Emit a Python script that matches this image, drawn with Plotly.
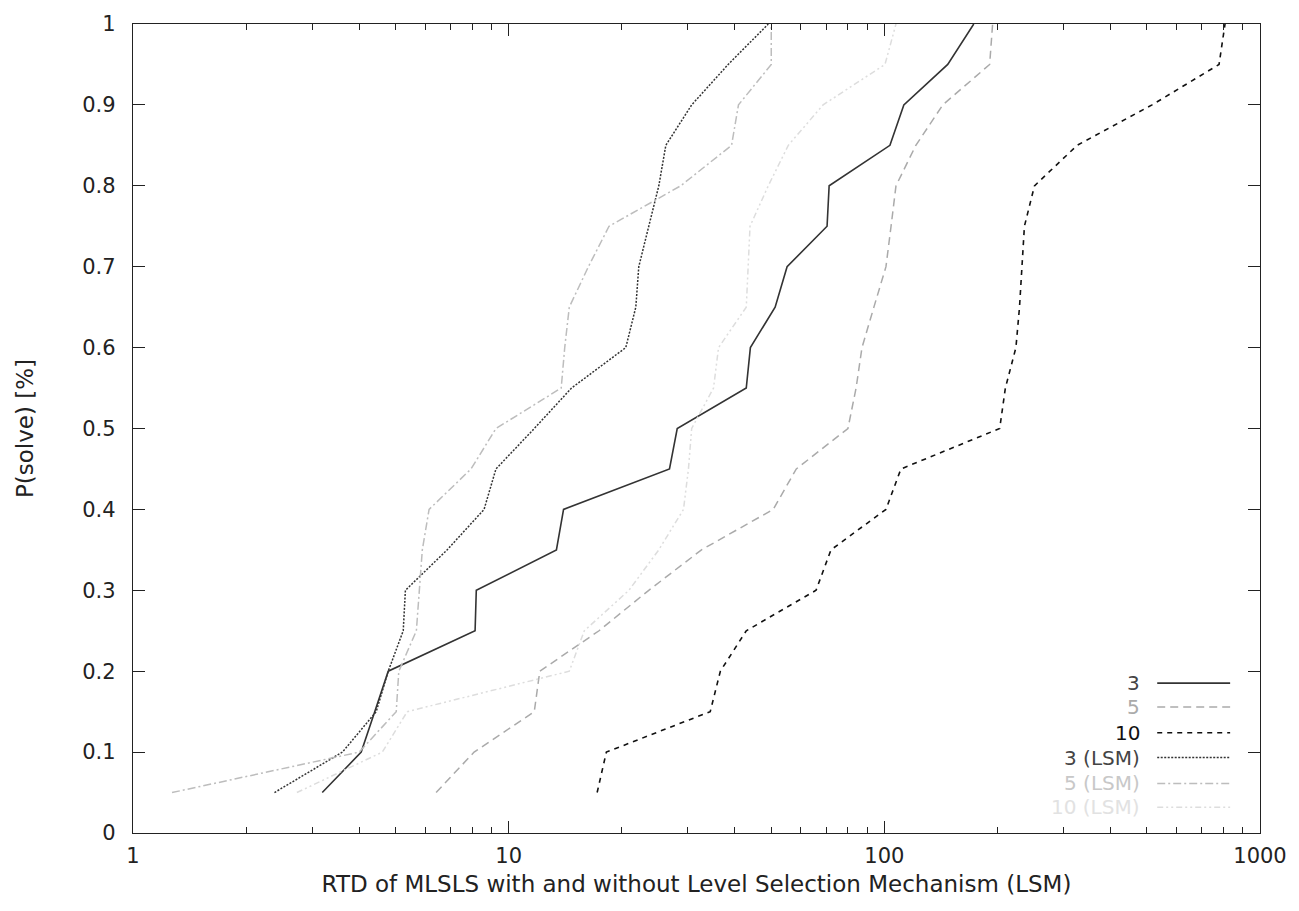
import plotly.graph_objects as go

# P(solve) levels (20 runs)
p_levels = [0.05, 0.10, 0.15, 0.20, 0.25, 0.30, 0.35, 0.40, 0.45, 0.50,
            0.55, 0.60, 0.65, 0.70, 0.75, 0.80, 0.85, 0.90, 0.95, 1.00]

rtd_3 = [3.19, 4.05, 4.4, 4.78, 8.14, 8.2, 13.4, 14.0, 26.8, 28.1,
         42.9, 44.0, 51.2, 55.1, 70.4, 71.3, 103.5, 112.7, 147.5, 173]
rtd_5 = [6.41, 8.09, 11.7, 12.1, 17.4, 23.6, 32.6, 50.6, 58.3, 80.0,
         84.1, 87.2, 93.8, 101, 104.2, 107.4, 121.3, 143.1, 190.7, 194.2]
rtd_10 = [17.2, 18.2, 34.4, 36.6, 42.9, 65.8, 72.1, 101, 110.7, 202.8,
          210, 224, 229, 233, 236, 251, 326, 516, 778, 807]
rtd_3_lsm = [2.38, 3.61, 4.44, 4.78, 5.24, 5.31, 6.86, 8.60, 9.25, 11.7,
             14.7, 20.5, 21.8, 22.2, 23.6, 25.1, 26.2, 30.7, 38.4, 49.1]
rtd_5_lsm = [1.27, 4.0, 5.02, 5.1, 5.68, 5.78, 5.89, 6.14, 7.94, 9.25,
             13.8, 14.1, 14.5, 16.3, 18.5, 28.7, 39.2, 40.9, 50.0, 50.0]
rtd_10_lsm = [2.73, 4.61, 5.37, 14.5, 15.9, 20.9, 25.1, 29.2, 30.1, 30.7,
              35.1, 36.2, 42.9, 43.3, 43.9, 49.1, 55.5, 68.7, 100.4, 107.4]

series_names = ["3", "5", "10", "3 (LSM)", "5 (LSM)", "10 (LSM)"]
series_data = [rtd_3, rtd_5, rtd_10, rtd_3_lsm, rtd_5_lsm, rtd_10_lsm]
line_colors = ["#333333", "#aaaaaa", "#111111", "#333333", "#bdbdbd", "#dddddd"]
text_colors = ["#444444", "#aaaaaa", "#111111", "#444444", "#c8c8c8", "#e2e2e2"]
dashes = ["solid", "8px,5px", "5px,5px", "2px,1.5px", "8px,3px,2px,3px", "6px,3px,2px,3px,2px,3px"]
widths = [1.6, 1.5, 1.6, 1.5, 1.5, 1.5]

x_major = [1, 10, 100, 1000]
x_minor = [m * d for d in (1, 10, 100) for m in range(2, 10)]
y_ticks = [0, 0.1, 0.2, 0.3, 0.4, 0.5, 0.6, 0.7, 0.8, 0.9, 1]
y_labels = ["0", "0.1", "0.2", "0.3", "0.4", "0.5", "0.6", "0.7", "0.8", "0.9", "1"]

fig = go.Figure()
for name, xs, col, dash, w in zip(series_names, series_data, line_colors, dashes, widths):
    fig.add_trace(go.Scatter(x=xs, y=p_levels, mode="lines", name=name,
                             line=dict(color=col, dash=dash, width=w),
                             showlegend=False))

font_family = "DejaVu Sans, Liberation Sans, Arial, sans-serif"

# gnuplot-style key (bottom right): right-aligned label then line sample
key_y = [0.1853, 0.1558, 0.1239, 0.0933, 0.0613, 0.0319]
for name, col, tcol, dash, w, ky in zip(series_names, line_colors, text_colors, dashes, widths, key_y):
    fig.add_annotation(x=0.8947, y=ky, xref="paper", yref="paper", text=name,
                       showarrow=False, xanchor="right", yanchor="middle",
                       borderpad=0,
                       font=dict(size=20, color=tcol, family=font_family))
    fig.add_shape(type="line", xref="paper", yref="paper",
                  x0=0.9088, x1=0.9735, y0=ky, y1=ky,
                  line=dict(color=col, dash=dash, width=w))

fig.update_layout(
    width=1299, height=911,
    margin=dict(l=133, r=36, t=18, b=78),
    plot_bgcolor="white", paper_bgcolor="white",
    font=dict(family=font_family, size=21, color="#222222"),
    xaxis=dict(type="log", range=[0, 3], tickvals=x_major,
               ticktext=["1", "10", "100", "1000"],
               ticks="inside", ticklen=12, tickwidth=1.3, tickcolor="#222",
               minor=dict(tickvals=x_minor, ticks="inside", ticklen=6,
                          tickwidth=1.2, tickcolor="#222", showgrid=False),
               showline=True, linecolor="#222", linewidth=1.3, mirror="ticks",
               showgrid=False, zeroline=False, ticklabelstandoff=4,
               title=dict(text="RTD of MLSLS with and without Level Selection Mechanism (LSM)",
                          font=dict(size=23, color="#222"), standoff=8),
               tickfont=dict(size=21, color="#222")),
    yaxis=dict(range=[0, 1], tickvals=y_ticks, ticktext=y_labels,
               ticks="inside", ticklen=12, tickwidth=1.3, tickcolor="#222",
               showline=True, linecolor="#222", linewidth=1.3, mirror="ticks",
               showgrid=False, zeroline=False, ticklabelstandoff=12,
               title=dict(text="P(solve) [%]", font=dict(size=23, color="#222"),
                          standoff=42),
               tickfont=dict(size=21, color="#222")),
)

fig.write_html("out.html")
